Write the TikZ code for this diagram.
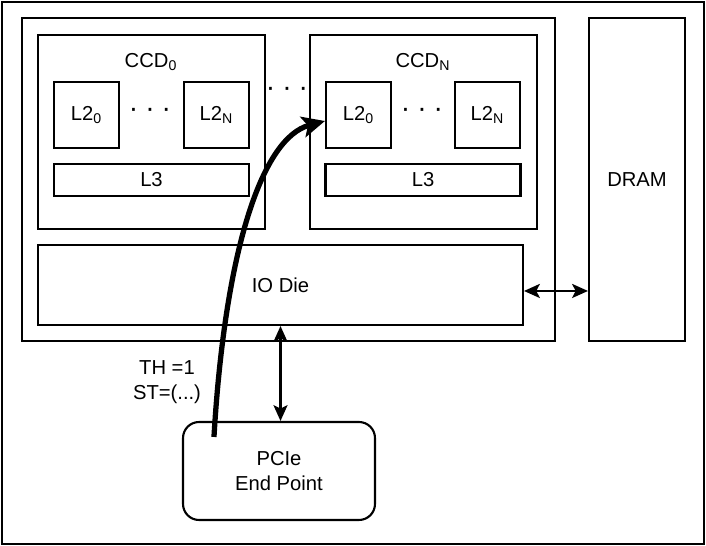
\documentclass[tikz,border=0pt]{standalone}
\usepackage{fontspec}
\setmainfont{Liberation Sans}
\usetikzlibrary{positioning,calc,arrows.meta}

\begin{document}
\begin{tikzpicture}[x=0.02cm, y=-0.02cm,
        block/.style={rectangle, draw, line width=1.2pt, inner sep=0pt, font=\fontsize{11.5}{14}\selectfont},
        ccd/.style={block, minimum width=4.54cm, minimum height=3.88cm},
        ltwo/.style={block, minimum width=1.3cm, minimum height=1.32cm},
        lthree/.style={block, minimum width=3.9cm, minimum height=0.64cm},
        label/.style={font=\fontsize{11.5}{14}\selectfont, inner sep=0pt},
        dots/.style={font=\fontsize{16}{14}\selectfont, inner sep=0pt},
        line/.style={draw, line width=1.2pt, {Stealth[length=9pt,width=8pt,inset=2pt]}-{Stealth[length=9pt,width=8pt,inset=2pt]}},
        hint/.style={draw, line width=3pt, -{Stealth[length=13pt,width=12pt,inset=3pt]}}]

        \useasboundingbox (0,0) rectangle (706,546);
        \node [block, line width=1.6pt, minimum width=14.04cm, minimum height=10.84cm] (frame) at (353,273) {};

        \node [block, minimum width=10.66cm, minimum height=6.46cm] (pkg) at (288.5,179.5) {};
        \node [block, minimum width=1.92cm, minimum height=6.46cm] (dram) at (637,179.5) {DRAM};

        % first CCD
        \node [ccd] (ccd0) at (151.5,132) {};
        \node [label] (ccd0name) at (151,62) {CCD\textsubscript{0}};
        \node [ltwo] (ccd0a) at (86.5,115) {L2\textsubscript{0}};
        \node [ltwo] (ccd0b) at (216.5,115) {L2\textsubscript{N}};
        \node [dots] (ccd0dots) at (150,113) {·\hspace{4pt}·\hspace{4pt}·};
        \node [lthree] (ccd0c) at (151.5,180) {L3};

        \node [dots] (ccddots) at (287,92) {·\hspace{4pt}·\hspace{4pt}·};

        % last CCD
        \node [ccd] (ccdn) at (423.5,132) {};
        \node [label] (ccdnname) at (423,62) {CCD\textsubscript{N}};
        \node [ltwo] (ccdna) at (358.5,115) {L2\textsubscript{0}};
        \node [ltwo] (ccdnb) at (487.5,115) {L2\textsubscript{N}};
        \node [dots] (ccdndots) at (422,113) {·\hspace{4pt}·\hspace{4pt}·};
        \node [lthree] (ccdnc) at (423,180) {L3};

        \node [block, minimum width=9.7cm, minimum height=1.6cm] (io) at (280.5,285) {IO Die};

        \node [block, rounded corners=0.32cm, minimum width=3.84cm, minimum height=1.96cm, align=center] (pcie) at (279,471) {PCIe\\End Point};
        \node [label, align=center] (tag) at (167,382) {TH =1\\ST=(...)};

        \path [line] ([yshift=-3.4pt]io.east) -- ([yshift=-3.4pt]dram.west |- io.east);
        \path [line] (io.south) -- (io.south |- pcie.north);

        \coordinate (hintsrc) at ($(pcie.north west)+(32,16)$);
        \draw [hint] (hintsrc) .. controls (225,250) and (262,138) .. ($(ccdna.west)+(0,6)$); % steering hint
    \end{tikzpicture}
\end{document}
